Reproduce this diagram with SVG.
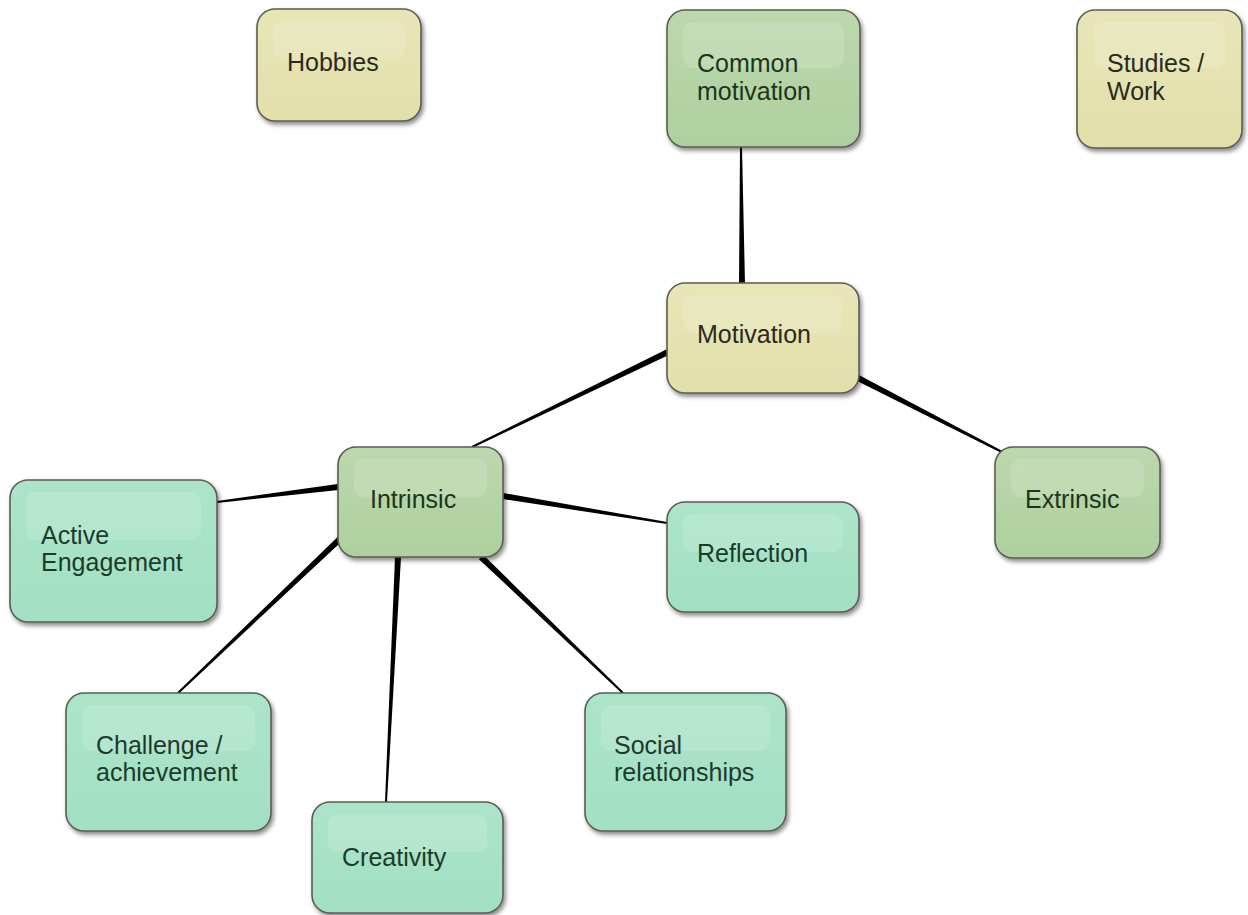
<svg xmlns="http://www.w3.org/2000/svg" width="1248" height="915" viewBox="0 0 1248 915">
<defs>
<linearGradient id="gy" x1="0" y1="0" x2="0" y2="1"><stop offset="0" stop-color="#e8e6b8"/><stop offset="1" stop-color="#e2dfaa"/></linearGradient>
<linearGradient id="gg" x1="0" y1="0" x2="0" y2="1"><stop offset="0" stop-color="#bcd8ae"/><stop offset="1" stop-color="#aed09f"/></linearGradient>
<linearGradient id="gt" x1="0" y1="0" x2="0" y2="1"><stop offset="0" stop-color="#ace4ca"/><stop offset="1" stop-color="#a2e0c3"/></linearGradient>
<filter id="sh" x="-10%" y="-10%" width="125%" height="130%"><feDropShadow dx="2" dy="3" stdDeviation="2" flood-color="#000" flood-opacity="0.45"/></filter>
</defs>
<style>
.box{stroke:#5c5c52;stroke-width:1.6;filter:url(#sh)}
.y{fill:url(#gy)} .g{fill:url(#gg)} .t{fill:url(#gt)}
.hl{fill:#ffffff;fill-opacity:0.14}
text{font-family:"Liberation Sans",Arial,sans-serif;font-size:25px}
.ty{fill:#2a2a1c} .tg{fill:#1c351c} .tt{fill:#1d3a2c}
.c{fill:#000}
</style>
<rect width="1248" height="915" fill="#fff"/>
<g id="connectors">
<polygon class="c" points="739,284 745,284 742,147 740,147"/>
<polygon class="c" points="666.7,349.3 669.3,354.7 472.4,447.9 471.6,446.1"/>
<polygon class="c" points="859.4,375.3 856.6,380.7 1001.5,452.9 1002.5,451.1"/>
<polygon class="c" points="338.4,490 337.6,484 216.9,501 217.1,503"/>
<polygon class="c" points="502.5,499 503.5,493 667.2,522 666.8,524"/>
<polygon class="c" points="344.1,539.2 339.9,534.8 177.3,692.3 178.7,693.7"/>
<polygon class="c" points="401,557 395,557 385,802 387,802"/>
<polygon class="c" points="478.9,559.2 483.1,554.8 623.7,692.3 622.3,693.7"/>
</g>
<g id="hobbies"><rect class="box y" x="257" y="9" width="164" height="112" rx="18"/><rect class="hl" x="273" y="21" width="132" height="38" rx="10"/><text class="ty" x="287" y="71">Hobbies</text></g>
<g id="common-motivation"><rect class="box g" x="667" y="10" width="193" height="137" rx="18"/><rect class="hl" x="683" y="22" width="161" height="46" rx="10"/><text class="tg" x="697" y="72">Common</text><text class="tg" x="697" y="100">motivation</text></g>
<g id="studies-work"><rect class="box y" x="1077" y="10" width="165" height="138" rx="18"/><rect class="hl" x="1093" y="22" width="133" height="46" rx="10"/><text class="ty" x="1107" y="72">Studies /</text><text class="ty" x="1107" y="100">Work</text></g>
<g id="motivation"><rect class="box y" x="667" y="283" width="192" height="110" rx="18"/><rect class="hl" x="683" y="295" width="160" height="38" rx="10"/><text class="ty" x="697" y="343">Motivation</text></g>
<g id="intrinsic"><rect class="box g" x="338" y="447" width="165" height="110" rx="18"/><rect class="hl" x="354" y="459" width="133" height="38" rx="10"/><text class="tg" x="370" y="508">Intrinsic</text></g>
<g id="extrinsic"><rect class="box g" x="995" y="447" width="165" height="111" rx="18"/><rect class="hl" x="1011" y="459" width="133" height="38" rx="10"/><text class="tg" x="1025" y="508">Extrinsic</text></g>
<g id="active-engagement"><rect class="box t" x="10" y="480" width="207" height="142" rx="18"/><rect class="hl" x="26" y="492" width="175" height="48" rx="10"/><text class="tt" x="41" y="544">Active</text><text class="tt" x="41" y="571">Engagement</text></g>
<g id="reflection"><rect class="box t" x="667" y="502" width="192" height="110" rx="18"/><rect class="hl" x="683" y="514" width="160" height="38" rx="10"/><text class="tt" x="697" y="562">Reflection</text></g>
<g id="challenge"><rect class="box t" x="66" y="693" width="205" height="138" rx="18"/><rect class="hl" x="82" y="705" width="173" height="46" rx="10"/><text class="tt" x="96" y="754">Challenge /</text><text class="tt" x="96" y="781">achievement</text></g>
<g id="creativity"><rect class="box t" x="312" y="802" width="191" height="111" rx="18"/><rect class="hl" x="328" y="814" width="159" height="38" rx="10"/><text class="tt" x="342" y="866">Creativity</text></g>
<g id="social"><rect class="box t" x="585" y="693" width="201" height="138" rx="18"/><rect class="hl" x="601" y="705" width="169" height="46" rx="10"/><text class="tt" x="614" y="754">Social</text><text class="tt" x="614" y="781">relationships</text></g>
</svg>
